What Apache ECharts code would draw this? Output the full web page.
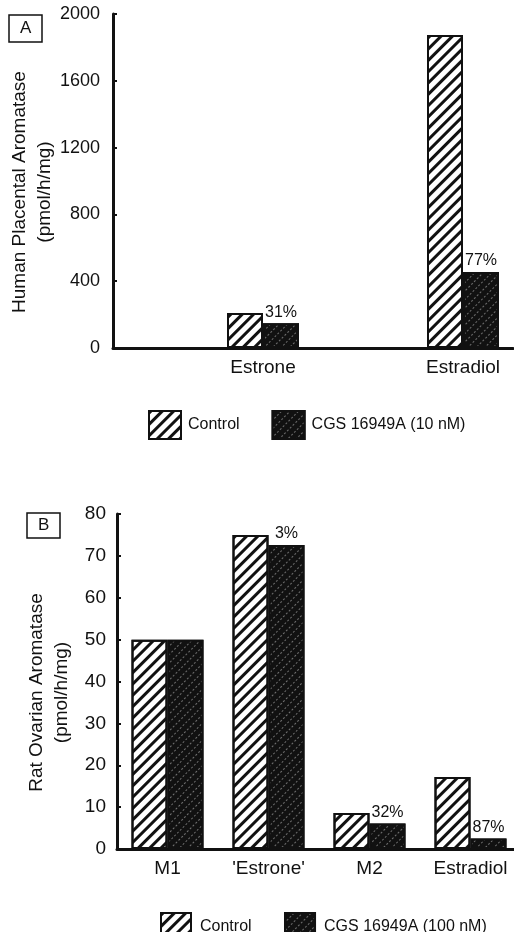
<!DOCTYPE html>
<html>
<head>
<meta charset="utf-8">
<script src="https://cdn.jsdelivr.net/npm/echarts@6/dist/echarts.min.js"></script>
<style>
  html, body { margin: 0; padding: 0; background: #fff; }
  #chart { width: 514px; height: 932px; }
</style>
</head>
<body>
<div id="chart"></div>
<script>
// panel A: human placental aromatase (blank slots keep the spacing of panel B)
const catsA = ['', 'Estrone', '', 'Estradiol'];
const controlA = ['-', 210, '-', 1875];
const treatedA = ['-', 148, '-', 455];
const pctA = ['', '31%', '', '77%'];
const ticksA = { min: 0, max: 2000, interval: 400 };

// panel B: rat ovarian aromatase
const catsB = ['M1', "'Estrone'", 'M2', 'Estradiol'];
const controlB = [50, 75, 8.6, 17.2];
const treatedB = [50, 72.6, 6.1, 2.5];
const pctB = ['', '3%', '32%', '87%'];
const ticksB = { min: 0, max: 80, interval: 10 };

const FONT = '"Liberation Sans", Arial, sans-serif';
const INK = '#111';

const hatchControl = {
  color: '#fff', borderColor: INK, borderWidth: 2,
  decal: { symbol: 'rect', symbolSize: 1, color: INK, dashArrayX: [1, 0], dashArrayY: [3, 5], rotation: -Math.PI / 4 },
};
const hatchTreated = {
  color: INK, borderColor: INK, borderWidth: 2,
  decal: { symbol: 'rect', symbolSize: 1, color: 'rgba(255,255,255,0.4)', dashArrayX: [2, 2], dashArrayY: [1, 5], rotation: -Math.PI / 4 },
};

const yAxisBase = (ticks, name, fontSize, margin, nameGap) => ({
  type: 'value',
  min: ticks.min, max: ticks.max, interval: ticks.interval,
  name: name,
  nameLocation: 'middle',
  nameRotate: 90,
  nameGap: nameGap,
  nameMoveOverlap: false,
  nameTextStyle: { color: INK, fontSize: 19, fontFamily: FONT, lineHeight: 25, padding: [0, 22, 0, 0] },
  axisLine: { show: true, lineStyle: { color: INK, width: 3 } },
  axisTick: { show: true, inside: true, length: 4, lineStyle: { color: INK, width: 2 } },
  minorTick: { show: true, splitNumber: 2, length: 2, lineStyle: { color: INK, width: 2 } },
  splitLine: { show: false },
  axisLabel: { color: INK, fontSize: fontSize, fontFamily: FONT, margin: margin, formatter: (v) => String(v) },
});

const xAxisBase = (cats, gridIndex) => ({
  type: 'category', gridIndex: gridIndex, data: cats,
  axisLine: { lineStyle: { color: INK, width: 3 } },
  axisTick: { show: false },
  axisLabel: { color: INK, fontSize: 19, fontFamily: FONT, margin: 10, interval: 0 },
});

const pctLabel = (pcts) => ({
  show: true, position: 'top', distance: 3,
  color: INK, fontSize: 16, fontFamily: FONT,
  formatter: (p) => pcts[p.dataIndex],
});

const chart = echarts.init(document.getElementById('chart'), null, { renderer: 'canvas' });

chart.setOption({
  animation: false,
  backgroundColor: '#fff',
  title: [
    { text: 'A', left: 9, top: 15, padding: [5, 11], borderColor: INK, borderWidth: 1.5,
      textStyle: { color: INK, fontSize: 17, fontWeight: 'normal', fontFamily: FONT } },
    { text: 'B', left: 27, top: 513, padding: [4, 11], borderColor: INK, borderWidth: 1.5,
      textStyle: { color: INK, fontSize: 17, fontWeight: 'normal', fontFamily: FONT } },
  ],
  legend: [
    { left: 143, top: 405, icon: 'rect', itemWidth: 32, itemHeight: 28, itemGap: 32,
      data: ['Control', 'CGS 16949A (10 nM)'],
      textStyle: { color: INK, fontSize: 16, fontFamily: FONT, padding: [0, 0, 0, 2] } },
    { left: 155, top: 907, icon: 'rect', itemWidth: 30, itemHeight: 28, itemGap: 28,
      data: ['Control ', 'CGS 16949A (100 nM)'],
      textStyle: { color: INK, fontSize: 16, fontFamily: FONT, padding: [0, 0, 0, 4] } },
  ],
  grid: [
    { left: 113, right: 1, top: 14, bottom: 584, outerBoundsMode: 'none' },
    { left: 117, right: -7, top: 514, bottom: 83, outerBoundsMode: 'none' },
  ],
  xAxis: [xAxisBase(catsA, 0), xAxisBase(catsB, 1)],
  yAxis: [
    Object.assign(yAxisBase(ticksA, 'Human Placental Aromatase\n(pmol/h/mg)', 18, 13, 56), { gridIndex: 0 }),
    Object.assign(yAxisBase(ticksB, 'Rat Ovarian Aromatase\n(pmol/h/mg)', 19, 11, 43), { gridIndex: 1 }),
  ],
  series: [
    { name: 'Control', type: 'bar', xAxisIndex: 0, yAxisIndex: 0, data: controlA,
      barWidth: 36, barGap: '0%', itemStyle: hatchControl },
    { name: 'CGS 16949A (10 nM)', type: 'bar', xAxisIndex: 0, yAxisIndex: 0, data: treatedA,
      barWidth: 36, barGap: '0%', itemStyle: hatchTreated, label: pctLabel(pctA) },
    { name: 'Control ', type: 'bar', xAxisIndex: 1, yAxisIndex: 1, data: controlB,
      barWidth: 36, barGap: '0%', itemStyle: hatchControl },
    { name: 'CGS 16949A (100 nM)', type: 'bar', xAxisIndex: 1, yAxisIndex: 1, data: treatedB,
      barWidth: 36, barGap: '0%', itemStyle: hatchTreated, label: pctLabel(pctB) },
  ],
});
</script>
</body>
</html>
